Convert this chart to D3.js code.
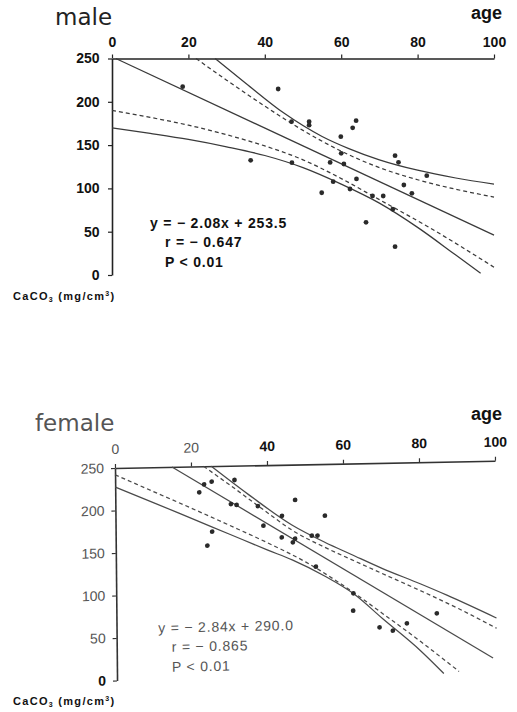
<!DOCTYPE html>
<html lang="en">

<head>
    <meta charset="UTF-8">
    <title>CaCO3 vs age</title>
    <script src="https://cdn.jsdelivr.net/npm/d3@7"></script>
    <style>
        body {
            margin: 0;
            background-color: #fff;
        }

        svg {
            display: block;
            font-family: "Liberation Sans", Arial, sans-serif;
        }

        .title {
            font-family: "DejaVu Sans", sans-serif;
            font-size: 23px;
        }

        .age-label {
            font-size: 18px;
            font-weight: bold;
        }

        .tick-label {
            font-size: 14px;
        }

        .eq {
            font-size: 14px;
            letter-spacing: 0.8px;
        }

        .unit {
            font-size: 11px;
            font-weight: bold;
            letter-spacing: 1.3px;
        }
    </style>
</head>

<body>
    <div id="chart"></div>

    <script>
        // tick values of both panels
        var ageTicks = [0, 20, 40, 60, 80, 100];
        var caTicks = [0, 50, 100, 150, 200, 250];

        // male: measured points
        var maleAge = [18.5, 43.5, 36.3, 47, 47.1, 51.6, 51.6, 54.9, 57.1, 57.9, 59.9, 60, 60.7, 62.3,
            63, 63.9, 64, 66.5, 68.2, 71, 73.5, 74.1, 75, 74.1, 76.4, 78.5, 82.4];
        var maleCa = [217.5, 214.8, 132.4, 177, 129.7, 177, 173, 95, 130, 107.8, 159.7, 140.5, 128.2, 99.3,
            170, 178.2, 110.9, 60.8, 91.2, 91.2, 75.9, 137.8, 130.1, 32.7, 103.9, 94.3, 114.7];

        // male: regression line and the two bands, [age, CaCO3]
        var maleFit = [[1, 250], [100, 46]];
        var maleOuterHi = [[27, 250], [35, 221.5], [45, 187], [55, 160], [62, 146], [70, 133], [80, 121], [90, 112], [100, 105]];
        var maleInnerHi = [[22, 250], [30, 225], [40, 195], [50, 167], [60, 143], [70, 124], [80, 110], [90, 99], [100, 90]];
        var maleInnerLo = [[0, 190], [10, 182], [20, 173], [30, 162], [40, 149], [50, 133], [58, 116], [70, 87], [83, 55], [100, 9]];
        var maleOuterLo = [[0, 170], [10, 163.5], [20, 156.5], [30, 148], [40, 138], [50, 124], [60, 105], [70, 83], [80, 55], [90, 23], [96.5, 2]];
        var maleText = ["y = − 2.08x + 253.5", "r = − 0.647", "P < 0.01"];

        // female: measured points
        var femaleAge = [22.1, 23.4, 25.4, 31.4, 30.4, 31.9, 37.5, 38.9, 43.8, 43.7, 47.3, 46.6, 47.2,
            51.6, 53.1, 55.1, 52.6, 25.4, 24.1, 62.4, 62.3, 69.2, 72.7, 76.4, 84.3];
        var femaleCa = [219.5, 228.8, 231.8, 233.2, 205, 203.8, 202, 178.8, 190, 164.7, 208.4, 158.6, 162.8,
            166, 166, 189.2, 129.4, 173, 156.6, 97.3, 76.8, 56.7, 52.5, 60.8, 71.9];

        // female: regression line and bands
        var femaleFit = [[15, 250], [99, 18]];
        var femaleOuterHi = [[25.3, 250], [35, 216], [46.4, 179], [55, 158], [62, 143], [70, 126], [80, 107], [87, 93], [100, 65]];
        var femaleInnerHi = [[23.3, 250], [30, 228], [40, 194], [46.4, 173], [55, 152], [62, 137], [70, 120], [80, 99], [90, 77], [100, 53]];
        var femaleInnerLo = [[0, 242], [10, 221.5], [20, 201], [30, 180], [40, 158.5], [50, 135], [60, 106], [70, 73], [80, 39], [90, 3]];
        var femaleOuterLo = [[0, 227.5], [10, 208.5], [20, 189], [30, 169.5], [40, 150], [46.4, 138], [55, 118], [62.4, 97], [70, 67], [80, 28], [86, 1]];
        var femaleText = ["y = − 2.84x + 290.0", "r = − 0.865", "P < 0.01"];

        var svg = d3.select("#chart")
            .append("svg")
            .attr("width", 517)
            .attr("height", 712);

        function drawPanel(p) {
            var g = svg.append("g").attr("transform", p.transform);

            var x = d3.scaleLinear().domain([0, 100]).range([0, p.w]);
            var y = d3.scaleLinear().domain([0, 250]).range([p.h, 0]);

            // age axis runs along the top
            var xAxis = g.append("g")
                .call(d3.axisTop(x).tickValues(ageTicks).tickSizeInner(4).tickSizeOuter(0).tickPadding(p.topPad));
            var yAxis = g.append("g")
                .call(d3.axisLeft(y).tickValues(caTicks).tickSizeInner(4).tickSizeOuter(0).tickPadding(p.leftPad));

            [xAxis, yAxis].forEach(function (a) {
                a.attr("font-family", null).attr("font-size", null);
                a.select(".domain").attr("stroke", p.axisColor).attr("stroke-width", 1.6);
                a.selectAll(".tick line").attr("stroke", p.axisColor).attr("stroke-width", 1.2);
            });
            xAxis.selectAll(".tick text")
                .attr("class", "tick-label")
                .attr("fill", function (d) {return p.xBold(d) ? "#111" : p.softColor;})
                .attr("font-weight", function (d) {return p.xBold(d) ? "bold" : "normal";});
            yAxis.selectAll(".tick text")
                .attr("class", "tick-label")
                .attr("fill", function (d) {return p.yBold(d) ? "#111" : p.softColor;})
                .attr("font-weight", function (d) {return p.yBold(d) ? "bold" : "normal";});

            var line = d3.line()
                .x(function (d) {return x(d[0]);})
                .y(function (d) {return y(d[1]);})
                .curve(d3.curveMonotoneX);

            var curves = [
                {data: p.outerHi, dash: null},
                {data: p.innerHi, dash: "4,3"},
                {data: p.fit, dash: null},
                {data: p.innerLo, dash: "4,3"},
                {data: p.outerLo, dash: null}
            ];

            g.selectAll(".band")
                .data(curves)
                .enter().append("path")
                .attr("class", "band")
                .attr("d", function (d) {return line(d.data);})
                .attr("fill", "none")
                .attr("stroke", p.lineColor)
                .attr("stroke-width", 1.25)
                .attr("stroke-dasharray", function (d) {return d.dash;});

            // points
            g.selectAll(".dot")
                .data(d3.zip(p.age, p.ca))
                .enter().append("circle")
                .attr("class", "dot")
                .attr("cx", function (d) {return x(d[0]);})
                .attr("cy", function (d) {return y(d[1]);})
                .attr("r", 2.4)
                .attr("fill", "#2a2a2a");

            // regression statistics
            g.selectAll(".eq")
                .data(p.text)
                .enter().append("text")
                .attr("class", "eq")
                .attr("x", function (d, i) {return p.eqPos[i][0];})
                .attr("y", function (d, i) {return p.eqPos[i][1];})
                .attr("fill", p.eqColor)
                .attr("font-weight", p.eqWeight)
                .text(function (d) {return d;});
        }

        function addLabels(title, titleColor, titleX, titleY, ageY, unitY) {
            svg.append("text")
                .attr("class", "title")
                .attr("x", titleX)
                .attr("y", titleY)
                .attr("fill", titleColor)
                .text(title);

            svg.append("text")
                .attr("class", "age-label")
                .attr("text-anchor", "end")
                .attr("x", 502)
                .attr("y", ageY)
                .attr("fill", "#111")
                .text("age");

            var unit = svg.append("text")
                .attr("class", "unit")
                .attr("x", 13)
                .attr("y", unitY)
                .attr("fill", "#111");
            unit.append("tspan").text("CaCO");
            unit.append("tspan").attr("font-size", "7px").attr("dy", 2).text("3");
            unit.append("tspan").attr("dy", -2).text(" (mg/cm");
            unit.append("tspan").attr("font-size", "7px").attr("dy", -4).text("3");
            unit.append("tspan").attr("dy", 4).text(")");
        }

        drawPanel({
            transform: "translate(112,58.5)",
            w: 382, h: 216.5,
            topPad: 8, leftPad: 8.5,
            axisColor: "#222", lineColor: "#3a3a3a", softColor: "#111",
            xBold: function () {return true;},
            yBold: function () {return true;},
            age: maleAge, ca: maleCa,
            fit: maleFit, outerHi: maleOuterHi, innerHi: maleInnerHi, innerLo: maleInnerLo, outerLo: maleOuterLo,
            text: maleText, eqPos: [[38, 169.5], [53, 188.2], [53, 208.2]],
            eqColor: "#111", eqWeight: "bold"
        });
        addLabels("male", "#222", 55, 25, 18.5, 300);

        // the female panel is slightly skewed in the scan
        drawPanel({
            transform: "matrix(1,-0.019,0.0096,1,115,468)",
            w: 380, h: 212.5,
            topPad: 10, leftPad: 7,
            axisColor: "#333", lineColor: "#4a4a4a", softColor: "#555",
            xBold: function (d) {return d >= 40;},
            yBold: function (d) {return d === 0;},
            age: femaleAge, ca: femaleCa,
            fit: femaleFit, outerHi: femaleOuterHi, innerHi: femaleInnerHi, innerLo: femaleInnerLo, outerLo: femaleOuterLo,
            text: femaleText, eqPos: [[41.7, 165.5], [55, 184.8], [55, 204.8]],
            eqColor: "#555", eqWeight: "normal"
        });
        addLabels("female", "#555", 35, 431, 420, 705);
    </script>
</body>

</html>
